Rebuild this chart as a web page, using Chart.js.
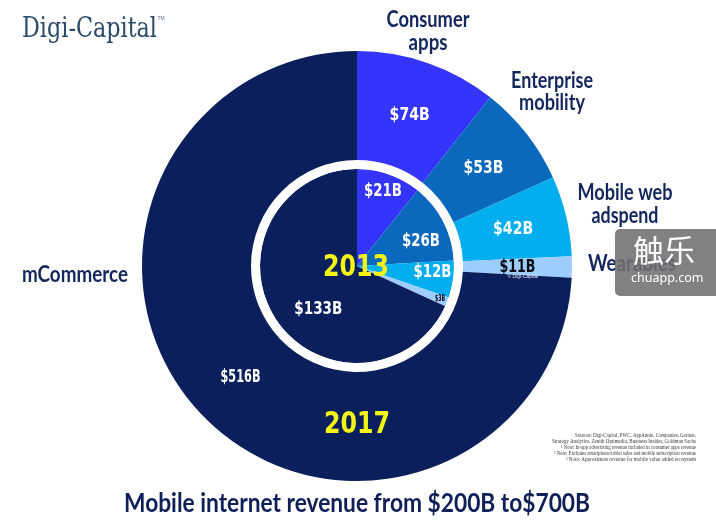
<!DOCTYPE html>
<html>
<head>
<meta charset="utf-8">
<script src="https://cdn.jsdelivr.net/npm/chart.js@4.4.1/dist/chart.umd.min.js"></script>
<style>
    html, body { margin: 0; padding: 0; background: #ffffff; }
    #wrap { position: relative; width: 716px; height: 528px; overflow: hidden; }
    #chart { position: absolute; left: 0; top: 0; }
    .watermark {
        position: absolute; left: 615px; top: 229px; width: 110px; height: 67px;
        background: rgba(112, 112, 112, 0.88); border-radius: 5px;
        color: #ffffff; text-align: left; font-family: "Noto Sans CJK SC", sans-serif;
    }
    .watermark .big { position: absolute; left: 18px; top: 0px; font-size: 31px; line-height: 40px; }
    .watermark .small { position: absolute; left: 16px; top: 40px; font-size: 12.5px; font-family: "Noto Sans", sans-serif; }
</style>
</head>
<body>
<div id="wrap">
    <canvas id="chart" width="716" height="528"></canvas>
    <div class="watermark"><span class="big">触乐</span><span class="small">chuapp.com</span></div>
</div>
<script>
// --- DATA ---
const categories = ['Consumer apps', 'Enterprise mobility', 'Mobile web adspend', 'Wearables', 'mCommerce'];
const revenue2017 = [74, 53, 42, 11, 516];
const revenue2013 = [21, 26, 12, 3, 133];
const yearLabels = ['2017', '2013'];

// --- STYLE ---
const sliceColors = ['#3434fb', '#0a68bd', '#02aeee', '#9dcdfc', '#0b1f5c'];
const navyText = '#13275d';
const valueFont = '"Liberation Sans Narrow", "DejaVu Sans Condensed", sans-serif';

// where each inner value label sits: fraction along the slice, fraction of radius
const innerLabelPos = [[0.49, 0.82], [0.61, 0.71], [0.35, 0.78], [0.5, 0.92], [0.44, 0.59]];

const fmt = v => '$' + v + 'B';

function drawText(ctx, text, x, y, font, color, align, width) {
    ctx.save();
    ctx.font = font;
    ctx.fillStyle = color;
    ctx.textBaseline = 'middle';
    if (width) {
        const w = ctx.measureText(text).width;
        const sx = width / w;
        let left = x;
        if (align === 'center') left = x - width / 2;
        if (align === 'right') left = x - width;
        ctx.translate(left, y);
        ctx.scale(sx, 1);
        ctx.textAlign = 'left';
        ctx.fillText(text, 0, 0);
    } else {
        ctx.textAlign = align || 'center';
        ctx.fillText(text, x, y);
    }
    ctx.restore();
}

const labelPlugin = {
    id: 'labels',
    afterDatasetsDraw(chart) {
        const ctx = chart.ctx;

        // value labels on the outer ring (2017)
        const outer = chart.getDatasetMeta(0).data;
        outer.forEach((arc, i) => {
            const p = arc.tooltipPosition();
            const dark = categories[i] === 'Wearables';
            drawText(ctx, fmt(revenue2017[i]), p.x, p.y + 1,
                'bold 17px ' + valueFont, dark ? '#0a0a14' : '#ffffff', 'center', dark ? 36 : 40);
        });

        // value labels on the inner pie (2013)
        const inner = chart.getDatasetMeta(2).data;
        inner.forEach((arc, i) => {
            const [t, rf] = innerLabelPos[i];
            const a = arc.startAngle + (arc.endAngle - arc.startAngle) * t;
            const r = arc.outerRadius * rf;
            const x = arc.x + Math.cos(a) * r;
            const y = arc.y + Math.sin(a) * r;
            if (revenue2013[i] < 5) {
                drawText(ctx, fmt(revenue2013[i]), x, y, 'bold 8px ' + valueFont, '#0a0a14', 'center', 10);
            } else {
                const w = revenue2013[i] >= 100 ? 48 : 38;
                drawText(ctx, fmt(revenue2013[i]), x, y + 1, 'bold 17px ' + valueFont, '#ffffff', 'center', w);
            }
        });

        // years
        const cx = outer[0].x, cy = outer[0].y;
        drawText(ctx, yearLabels[1], cx - 1, cy + 2, 'bold 31px ' + valueFont, '#f4f414', 'center', 66);
        drawText(ctx, yearLabels[0], cx, cy + 159, 'bold 31px ' + valueFont, '#f4f414', 'center', 66);

        // category labels
        const catFont = 'bold 22px Lato, sans-serif';
        drawText(ctx, 'Consumer', 428, 20, catFont, navyText, 'center', 83);
        drawText(ctx, 'apps', 428, 43, catFont, navyText, 'center', 39);
        drawText(ctx, 'Enterprise', 552, 81, catFont, navyText, 'center', 82);
        drawText(ctx, 'mobility', 552, 103, catFont, navyText, 'center', 66);
        drawText(ctx, 'Mobile web', 625, 193, catFont, navyText, 'center', 95);
        drawText(ctx, 'adspend', 625, 216, catFont, navyText, 'center', 67);
        drawText(ctx, 'Wearables', 588, 264, catFont, navyText, 'left', 88);
        drawText(ctx, 'mCommerce', 22, 275, catFont, navyText, 'left', 106);

        // copyright under $11B
        drawText(ctx, '© Digi-Capital', 523, 277, '5px sans-serif', '#dfe6f5', 'center');

        // title
        drawText(ctx, 'Mobile internet revenue from $200B to$700B', 357, 504,
            'bold 26px Lato, sans-serif', '#0f1f58', 'center', 466);

        // logo
        drawText(ctx, 'Digi-Capital', 22, 30, '27px "DejaVu Serif", serif', '#2b4a68', 'left', 135);
        drawText(ctx, 'TM', 161, 19, '5px sans-serif', '#5a7088', 'center');

        // sources
        const notes = [
            'Sources: Digi-Capital, PWC, AppAnnie, Companies, Gartner,',
            'Strategy Analytics, Zenith Optimedia, Business Insider, Goldman Sachs',
            '¹ Note: In-app advertising revenue included in consumer apps revenue',
            '² Note: Excludes smartphone/tablet sales and mobile subscription revenue',
            '³ Note: Approximate revenue for mobile value added ecosystem'
        ];
        const noteWidths = [121, 144, 135, 142, 130];
        notes.forEach((n, i) => {
            drawText(ctx, n, 696, 435 + i * 6.2, '6px "Liberation Serif", serif', '#3a3a3a', 'right', noteWidths[i]);
        });
    }
};

const ctx = document.getElementById('chart').getContext('2d');
new Chart(ctx, {
    type: 'doughnut',
    data: {
        labels: categories,
        datasets: [
            {
                label: yearLabels[0],
                data: revenue2017,
                backgroundColor: sliceColors,
                borderWidth: 0,
                weight: 109
            },
            {
                label: 'gap',
                data: [1],
                backgroundColor: ['#ffffff'],
                borderWidth: 0,
                weight: 9
            },
            {
                label: yearLabels[1],
                data: revenue2013,
                backgroundColor: sliceColors,
                borderWidth: 0,
                weight: 97
            }
        ]
    },
    options: {
        responsive: false,
        animation: false,
        cutout: 0,
        layout: { padding: { left: 142, top: 51, right: 144, bottom: 47 } },
        plugins: {
            legend: { display: false },
            tooltip: { enabled: false }
        }
    },
    plugins: [labelPlugin]
});
</script>
</body>
</html>
